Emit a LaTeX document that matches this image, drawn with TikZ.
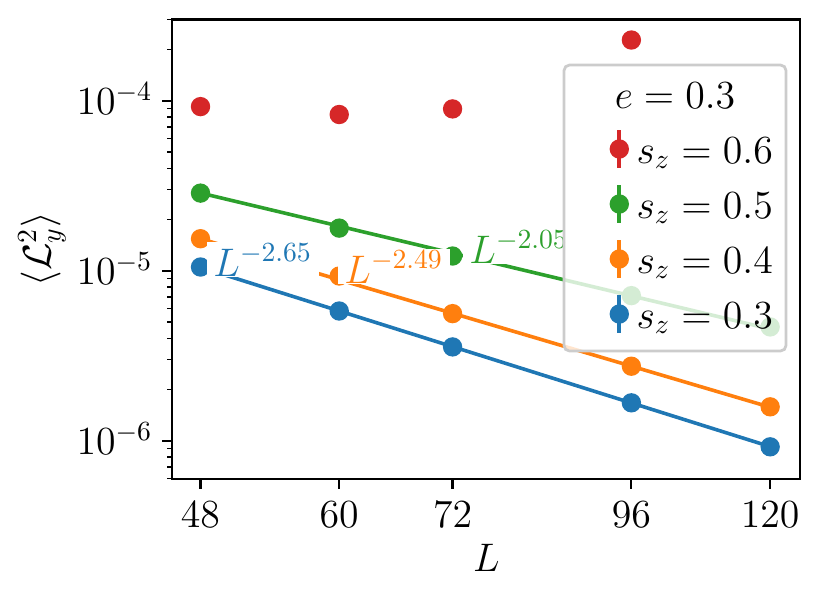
\documentclass[tikz,border=0pt]{standalone}
\usepackage{amsmath}
\definecolor{tabblue}{HTML}{1F77B4}
\definecolor{taborange}{HTML}{FF7F0E}
\definecolor{tabgreen}{HTML}{2CA02C}
\definecolor{tabred}{HTML}{D62728}
\definecolor{legframe}{HTML}{CCCCCC}

\begin{document}
\begin{tikzpicture}[x=0.36135pt,y=-0.36135pt,
    font=\fontsize{14}{17}\selectfont,
    dot/.style={circle,fill=#1,inner sep=0pt,minimum size=7pt},
    fitline/.style={#1,line width=1.3pt},
    expo/.style={text=#1,fill=white,inner xsep=2.5pt,inner ysep=0.5pt,anchor=base west},
    majortick/.style={line width=0.8pt},
    minortick/.style={line width=0.6pt}]
    \useasboundingbox (0,0) rectangle (831,600);

    % power-law fits
    \coordinate (green-a) at (200.5,193);
    \coordinate (green-b) at (770.2,329);
    \coordinate (orange-a) at (200.5,238.7);
    \coordinate (orange-b) at (770.2,407.2);
    \coordinate (blue-a) at (200.5,267.3);
    \coordinate (blue-b) at (770.2,446.6);
    \draw[fitline=tabgreen] (green-a) -- (green-b);
    \draw[fitline=taborange] (orange-a) -- (orange-b);
    \draw[fitline=tabblue] (blue-a) -- (blue-b);

    % data points
    \foreach \L/\y in {48/106.6, 60/114.5, 72/108.9, 96/40} {
        \node[dot=tabred] (red-\L) at ({200.5+621.7*ln(\L/48)},\y) {};
    }
    \foreach \L/\y in {48/193.1, 60/228.1, 72/256, 96/295.6, 120/326.9} {
        \node[dot=tabgreen] (green-\L) at ({200.5+621.7*ln(\L/48)},\y) {};
    }
    \foreach \L/\y in {48/238.7, 60/276, 72/313.6, 96/366.2, 120/406.8} {
        \node[dot=taborange] (orange-\L) at ({200.5+621.7*ln(\L/48)},\y) {};
    }
    \foreach \L/\y in {48/267, 60/311, 72/346.9, 96/402.8, 120/446.8} {
        \node[dot=tabblue] (blue-\L) at ({200.5+621.7*ln(\L/48)},\y) {};
    }

    % exponents
    \node[expo=tabblue] (blue-exp) at (206,276) {$L^{-2.65}$};
    \node[expo=taborange] (orange-exp) at (337,283) {$L^{-2.49}$};
    \node[expo=tabgreen] (green-exp) at (462,263) {$L^{-2.05}$};

    % axes
    \draw[majortick] (172,19.5) rectangle (800,479);
    \foreach \L in {48,60,72,96,120} {
        \draw[majortick] ({200.5+621.7*ln(\L/48)},479) -- ++(0,9.7);
        \node[anchor=base,inner sep=0pt] (xt-\L) at ({200.5+621.7*ln(\L/48)},527) {$\L$};
    }
    \foreach \e/\y in {4/100.7, 5/270.7, 6/440.7} {
        \draw[majortick] (172,\y) -- ++(-9.7,0);
        \node[anchor=base east,inner sep=0pt] (yt-\e) at (153,{\y+14}) {$10^{-\e}$};
    }
    \foreach \k in {2,3} {
        \draw[minortick] (172,{100.7-170*log10(\k)}) -- ++(-5.5,0);
    }
    \foreach \y in {270.7,440.7} {
        \foreach \k in {2,...,9} {
            \draw[minortick] (172,{\y-170*log10(\k)}) -- ++(-5.5,0);
        }
    }
    \foreach \k in {6,...,9} {
        \draw[minortick] (172,{610.7-170*log10(\k)}) -- ++(-5.5,0);
    }
    \node[anchor=base] (xlab) at (486.5,571) {$L$};
    \node[rotate=90] (ylab) at (42,249) {$\langle \mathcal{L}_y^2 \rangle$};

    % legend
    \draw[draw=legframe,line width=1pt,fill=white,fill opacity=0.8,rounded corners=2pt]
        (564,65) rectangle (786,351);
    \node[anchor=base] (title) at (675,108) {$e = 0.3$};
    \foreach \c/\s/\y/\i in {tabred/0.6/163/1, tabgreen/0.5/218/2, taborange/0.4/273/3, tabblue/0.3/328/4} {
        \draw[\c,line width=1.5pt] (619.3,{\y-33}) -- (619.3,{\y+5});
        \node[dot=\c] (hd-\i) at (619.3,{\y-14}) {};
        \node[anchor=base west,inner sep=0pt] (lg-\i) at (636,\y) {$s_z = \s$};
    }
\end{tikzpicture}
\end{document}
